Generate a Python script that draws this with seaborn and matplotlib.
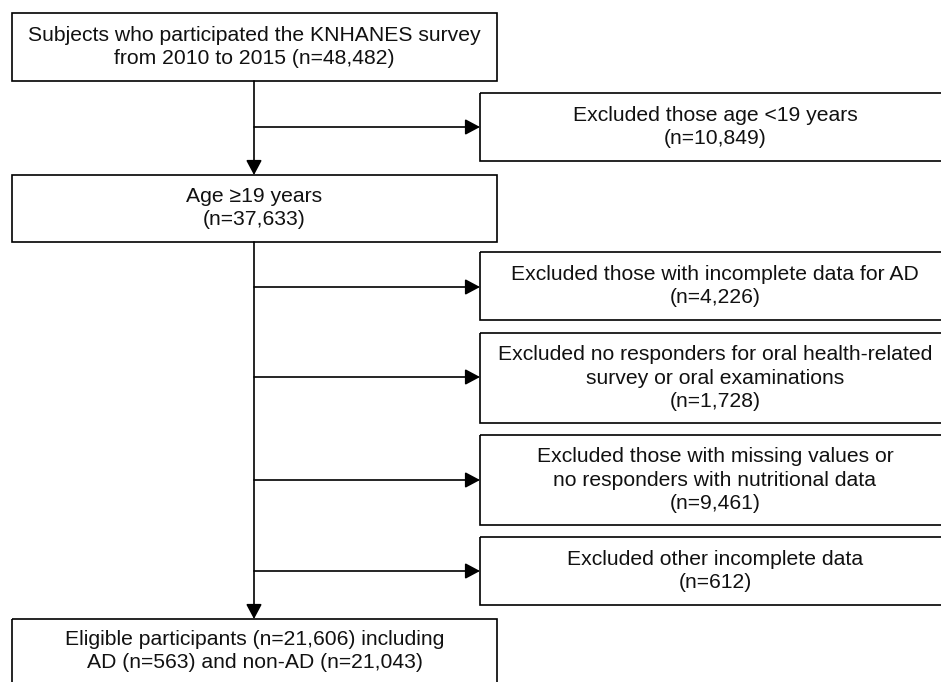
import numpy as np
import pandas as pd
import matplotlib.pyplot as plt
import matplotlib.patches as mpatches
import seaborn as sns

## Data: flow of subjects through the exclusion steps
n_total = 48482
n_under19 = 10849
n_adult = 37633
n_excluded = [4226, 1728, 9461, 612]
n_eligible = 21606
n_ad = 563
n_non_ad = 21043

main_labels = [
    "Subjects who participated the KNHANES survey\nfrom 2010 to 2015 (n={:,})".format(n_total),
    "Age \u226519 years\n(n={:,})".format(n_adult),
    "Eligible participants (n={:,}) including\nAD (n={:,}) and non-AD (n={:,})".format(n_eligible, n_ad, n_non_ad),
]
side_labels = [
    "Excluded those age <19 years\n(n={:,})".format(n_under19),
    "Excluded those with incomplete data for AD\n(n={:,})".format(n_excluded[0]),
    "Excluded no responders for oral health-related\nsurvey or oral examinations\n(n={:,})".format(n_excluded[1]),
    "Excluded those with missing values or\nno responders with nutritional data\n(n={:,})".format(n_excluded[2]),
    "Excluded other incomplete data\n(n={:,})".format(n_excluded[3]),
]

## Layout (pixels, y down): box corners and text centre
main_boxes = [(12, 13, 497, 81), (12, 175, 497, 242), (12, 619, 497, 720)]
main_text_y = [47, 208, 651]
side_boxes = [(480, 93, 960, 161), (480, 252, 960, 320), (480, 333, 960, 423),
              (480, 435, 960, 525), (480, 537, 960, 605)]
side_arrow_y = [127, 287, 377, 480, 571]
trunk_x = 254
side_text_x = 715

sns.set_theme(style="white")
plt.rcParams['font.family'] = ['Liberation Sans', 'DejaVu Sans']

fig, ax = plt.subplots(figsize=(9.41, 6.82), dpi=100)
fig.subplots_adjust(left=0, right=1, bottom=0, top=1)
ax.set_xlim(0, 941)
ax.set_ylim(682, 0)
ax.axis("off")

lw = 1.2
fs = 15.2

def draw_box(x0, y0, x1, y1, text, tx, ty):
    ax.add_patch(mpatches.Rectangle((x0, y0), x1 - x0, y1 - y0, fill=False,
                                    edgecolor="black", linewidth=lw))
    ax.text(tx, ty, text, ha="center", va="center", fontsize=fs,
            linespacing=1.3, color="#111111")

def arrow(x0, y0, x1, y1):
    ax.annotate("", xy=(x1, y1), xytext=(x0, y0),
                arrowprops=dict(arrowstyle="-|>,head_length=0.75,head_width=0.4",
                                color="black", lw=lw, shrinkA=0, shrinkB=0))

for (x0, y0, x1, y1), lab, ty in zip(main_boxes, main_labels, main_text_y):
    draw_box(x0, y0, x1, y1, lab, (x0 + x1) / 2, ty)
for (x0, y0, x1, y1), lab in zip(side_boxes, side_labels):
    draw_box(x0, y0, x1, y1, lab, side_text_x, (y0 + y1) / 2)

# trunk arrows
arrow(trunk_x, main_boxes[0][3], trunk_x, main_boxes[1][1])
arrow(trunk_x, main_boxes[1][3], trunk_x, main_boxes[2][1])
# side arrows
for y in side_arrow_y:
    arrow(trunk_x, y, side_boxes[0][0], y)

fig.savefig("out.png", dpi=100, facecolor="white")
